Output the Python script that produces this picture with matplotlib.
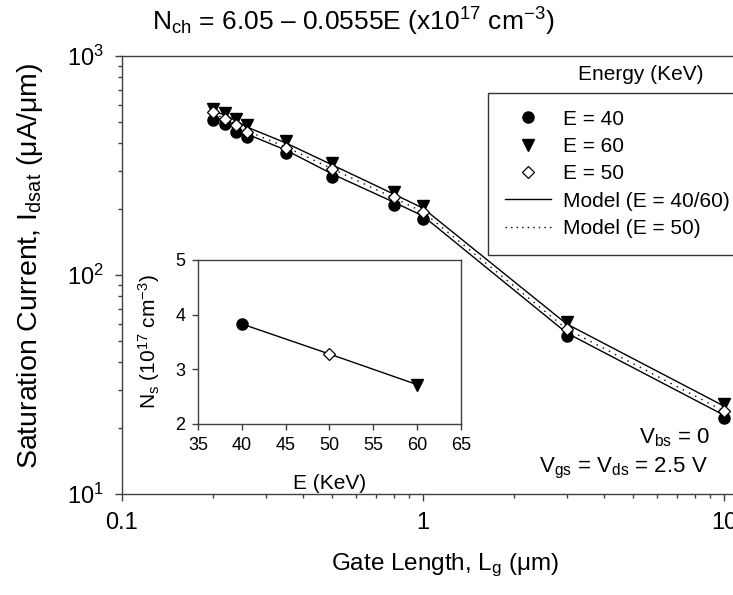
import matplotlib
matplotlib.use("Agg")
import matplotlib.pyplot as plt
from matplotlib.ticker import FixedLocator, FuncFormatter, LogLocator, NullFormatter
from matplotlib.lines import Line2D

plt.rcParams['font.family'] = ['Liberation Sans', 'DejaVu Sans']
plt.rcParams['mathtext.default'] = 'regular'
plt.rcParams['mathtext.fontset'] = 'custom'
plt.rcParams['mathtext.rm'] = 'Liberation Sans'
plt.rcParams['mathtext.it'] = 'Liberation Sans'

# ---- data ----
gate_length = [0.2, 0.22, 0.24, 0.26, 0.35, 0.5, 0.8, 1.0, 3.0, 10.0]
idsat_e40 = [510, 489, 450, 427, 361, 280, 209, 180, 52.7, 22.2]
idsat_e50 = [555, 516, 484, 450, 380, 305, 227, 194, 56.7, 23.9]
idsat_e60 = [573, 549, 516, 484, 409, 325, 239, 207, 61.0, 25.8]
model_e40 = [527, 505, 464, 440, 372, 289, 215, 186, 54.4, 22.9]
model_e50 = [543, 521, 484, 455, 384, 305, 225, 194, 56.7, 23.9]
model_e60 = [561, 538, 505, 474, 401, 318, 234, 202, 59.8, 25.2]

energy = [40, 50, 60]
ns = [3.83, 3.28, 2.72]

W, H = 733, 595
fig = plt.figure(figsize=(W / 100, H / 100), dpi=100)

# main axes (extends past right edge like the reference crop)
L, R, T, B = 122, 745, 56, 494
ax = fig.add_axes([L / W, 1 - B / H, (R - L) / W, (B - T) / H])
ax.set_xscale('log')
ax.set_yscale('log')
xmax = 10 ** (-1 + (R - L) / 301.0)
ax.set_xlim(0.1, xmax)
ax.set_ylim(10, 1000)

spine_c = '#404040'
for s in ax.spines.values():
    s.set_color(spine_c)
    s.set_linewidth(1.0)
ax.spines['right'].set_visible(False)

ax.plot(gate_length, model_e40, color='black', lw=1.0, ls='-', zorder=2)
ax.plot(gate_length, model_e60, color='black', lw=1.0, ls='-', zorder=2)
ax.plot(gate_length, model_e50, color='black', lw=1.0, ls=(0, (1, 4)), zorder=2)

ax.plot(gate_length, idsat_e40, ls='none', marker='o', ms=8, mfc='black', mec='black', zorder=3)
ax.plot(gate_length, idsat_e60, ls='none', marker='v', ms=8, mfc='black', mec='black', zorder=3)
ax.plot(gate_length, idsat_e50, ls='none', marker='D', ms=6.5, mfc='white', mec='black', mew=0.9, zorder=4)

ax.xaxis.set_major_locator(FixedLocator([0.1, 1, 10]))
ax.xaxis.set_major_formatter(FuncFormatter(lambda v, p: {0.1: '0.1', 1: '1', 10: '10'}.get(round(v, 3), '')))
ax.xaxis.set_minor_locator(LogLocator(base=10, subs=range(2, 10), numticks=20))
ax.xaxis.set_minor_formatter(NullFormatter())
ax.yaxis.set_major_locator(FixedLocator([10, 100, 1000]))
ax.yaxis.set_major_formatter(FuncFormatter(lambda v, p: {10: r'$10^{1}$', 100: r'$10^{2}$', 1000: r'$10^{3}$'}.get(int(round(v)), '')))
ax.yaxis.set_minor_locator(LogLocator(base=10, subs=range(2, 10), numticks=20))
ax.yaxis.set_minor_formatter(NullFormatter())
ax.tick_params(which='major', direction='out', length=5, width=1, color=spine_c, labelsize=17, pad=8)
ax.tick_params(which='minor', direction='out', length=3, width=1, color=spine_c)
ax.tick_params(axis='x', which='both', top=False)

ax.set_xlabel(r'Gate Length, L$_{g}$ ($\mu$m)', fontsize=17.5)
ax.xaxis.set_label_coords((445 - L) / (R - L), -(565 - B) / (B - T), transform=ax.transAxes)
ax.xaxis.label.set_va('center')
ax.set_ylabel(r'Saturation Current, I$_{dsat}$ ($\mu$A/$\mu$m)', fontsize=20.5)
ax.yaxis.set_label_coords(-(L - 30) / (R - L), (B - 266) / (B - T), transform=ax.transAxes)
ax.yaxis.label.set_va('center')
fig.text(353 / W, 1 - 22 / H, r'N$_{ch}$ = 6.05 – 0.0555E (x10$^{17}$ cm$^{-3}$)',
         ha='center', va='center', fontsize=19)

# legend
handles = [
    Line2D([], [], ls='none', marker='o', ms=8, mfc='black', mec='black'),
    Line2D([], [], ls='none', marker='v', ms=8, mfc='black', mec='black'),
    Line2D([], [], ls='none', marker='D', ms=6.5, mfc='white', mec='black', mew=0.9),
    Line2D([], [], color='black', lw=1.0),
    Line2D([], [], color='black', lw=1.0, ls=(0, (1, 3))),
]
labels = ['E = 40', 'E = 60', 'E = 50', 'Model (E = 40/60)', 'Model (E = 50)']
leg = fig.legend(handles, labels, loc='upper left', bbox_to_anchor=(488 / W, 1 - 93 / H),
                 borderaxespad=0.0,
                 fontsize=15, frameon=True, fancybox=False, edgecolor='black',
                 labelspacing=0.4, handlelength=2.2, handletextpad=0.6, borderpad=0.8)
leg.get_frame().set_linewidth(1.0)
fig.text(641 / W, 1 - 74 / H, 'Energy (KeV)', ha='center', va='center', fontsize=15)

fig.text(710 / W, 1 - 438 / H, r'V$_{bs}$ = 0', ha='right', va='center', fontsize=16)
fig.text(708 / W, 1 - 468 / H, r'V$_{gs}$ = V$_{ds}$ = 2.5 V', ha='right', va='center', fontsize=16)

# inset
iL, iR, iT, iB = 198, 461, 260, 424
ins = fig.add_axes([iL / W, 1 - iB / H, (iR - iL) / W, (iB - iT) / H])
ins.set_facecolor('white')
ins.set_xlim(35, 65)
ins.set_ylim(2, 5)
ins.plot(energy, ns, color='black', lw=1.0, zorder=2)
ins.plot(energy[0], ns[0], marker='o', ms=8, mfc='black', mec='black', zorder=3)
ins.plot(energy[1], ns[1], marker='D', ms=6.5, mfc='white', mec='black', mew=0.9, zorder=3)
ins.plot(energy[2], ns[2], marker='v', ms=8, mfc='black', mec='black', zorder=3)
ins.set_xticks([35, 40, 45, 50, 55, 60, 65])
ins.set_yticks([2, 3, 4, 5])
for s in ins.spines.values():
    s.set_color(spine_c)
    s.set_linewidth(1.0)
ins.tick_params(direction='out', length=4, width=1, color=spine_c, labelsize=13, pad=5)
ins.set_xlabel('E (KeV)', fontsize=15, labelpad=15)
ins.set_ylabel(r'N$_{s}$ (10$^{17}$ cm$^{-3}$)', fontsize=15, labelpad=10)

fig.savefig('out.png', dpi=100)
